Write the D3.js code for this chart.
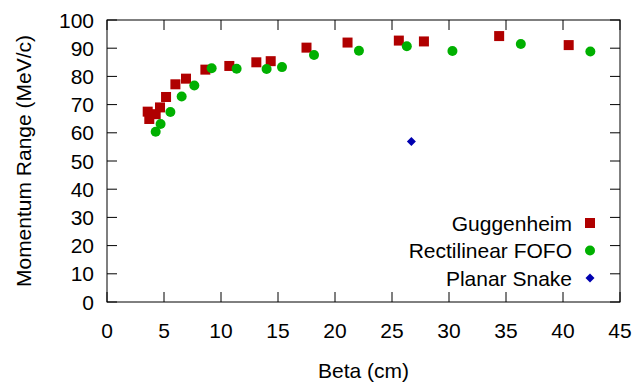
<!DOCTYPE html>
<html>
<head>
<meta charset="utf-8">
<script src="https://cdn.jsdelivr.net/npm/d3@7"></script>
<style>
  body { margin: 0; background: #fff; }
  svg text { font-family: 'Liberation Sans', Arial, sans-serif; fill: #000; }
</style>
</head>
<body>
<div id="chart"></div>
<script>
// Data
const gugBeta = [3.57, 3.71, 4.27, 4.65, 5.18, 6.0, 6.93, 8.63, 10.73, 13.1, 14.36, 17.5, 21.1, 25.6, 27.8, 34.4, 40.5];
const gugRange = [67.5, 64.9, 66.6, 69.0, 72.7, 77.2, 79.2, 82.4, 83.7, 85.0, 85.4, 90.2, 92.0, 92.7, 92.4, 94.3, 91.1];
const fofoBeta = [4.27, 4.7, 5.56, 6.55, 7.66, 9.18, 11.37, 14.0, 15.35, 18.16, 22.1, 26.3, 30.3, 36.3, 42.4];
const fofoRange = [60.4, 63.1, 67.4, 72.9, 76.8, 82.9, 82.7, 82.6, 83.3, 87.6, 89.1, 90.7, 89.0, 91.5, 88.8];
const snakeBeta = [26.7];
const snakeRange = [56.9];
const xTicks = [0, 5, 10, 15, 20, 25, 30, 35, 40, 45];
const yTicks = [0, 10, 20, 30, 40, 50, 60, 70, 80, 90, 100];
const seriesNames = ['Guggenheim', 'Rectilinear FOFO', 'Planar Snake'];

const width = 637;
const height = 382;
const marginLeft = 107;
const marginRight = 17;
const marginTop = 20;
const marginBottom = 80;
const tickLen = 10;
const fontSize = 21;

const svg = d3.select('#chart')
  .append('svg')
  .attr('width', width)
  .attr('height', height)
  .attr('viewBox', [0, 0, width, height]);

const x = d3.scaleLinear().domain([0, 45]).range([marginLeft, width - marginRight]);
const y = d3.scaleLinear().domain([0, 100]).range([height - marginBottom, marginTop]);

// mirrored inward ticks, gnuplot style
const axes = svg.append('g').attr('stroke', '#000').attr('stroke-width', 1);
xTicks.forEach(t => {
  axes.append('line').attr('x1', x(t)).attr('x2', x(t)).attr('y1', y(0)).attr('y2', y(0) - tickLen);
  axes.append('line').attr('x1', x(t)).attr('x2', x(t)).attr('y1', y(100)).attr('y2', y(100) + tickLen);
});
yTicks.forEach(t => {
  axes.append('line').attr('x1', x(0)).attr('x2', x(0) + tickLen).attr('y1', y(t)).attr('y2', y(t));
  axes.append('line').attr('x1', x(45)).attr('x2', x(45) - tickLen).attr('y1', y(t)).attr('y2', y(t));
});
axes.append('rect')
  .attr('x', x(0)).attr('y', y(100))
  .attr('width', x(45) - x(0)).attr('height', y(0) - y(100))
  .attr('fill', 'none');

svg.append('g').selectAll('text').data(xTicks).join('text')
  .attr('x', d => x(d)).attr('y', y(0) + 36)
  .attr('text-anchor', 'middle')
  .style('font-size', fontSize + 'px')
  .text(d => d);

svg.append('g').selectAll('text').data(yTicks).join('text')
  .attr('x', x(0) - 13).attr('y', d => y(d))
  .attr('text-anchor', 'end')
  .attr('dominant-baseline', 'central')
  .style('font-size', fontSize + 'px')
  .text(d => d);

svg.append('text')
  .attr('x', (x(0) + x(45)) / 2).attr('y', 378)
  .attr('text-anchor', 'middle')
  .style('font-size', fontSize + 'px')
  .text('Beta (cm)');

svg.append('text')
  .attr('transform', 'translate(31,' + (y(0) + y(100)) / 2 + ') rotate(-90)')
  .attr('text-anchor', 'middle')
  .style('font-size', fontSize + 'px')
  .text('Momentum Range (MeV/c)');

// markers
const red = '#b00000', green = '#00b000', blue = '#0000b0';
const drawSquare = (g, cx, cy) => g.append('rect').attr('x', cx - 5).attr('y', cy - 5).attr('width', 10).attr('height', 10).attr('fill', red);
const drawCircle = (g, cx, cy) => g.append('circle').attr('cx', cx).attr('cy', cy).attr('r', 5).attr('fill', green);
const drawDiamond = (g, cx, cy) => g.append('path').attr('d', `M${cx},${cy - 4.5}L${cx + 4.5},${cy}L${cx},${cy + 4.5}L${cx - 4.5},${cy}Z`).attr('fill', blue);

const pts = svg.append('g');
gugBeta.forEach((b, i) => drawSquare(pts, x(b), y(gugRange[i])));
fofoBeta.forEach((b, i) => drawCircle(pts, x(b), y(fofoRange[i])));
snakeBeta.forEach((b, i) => drawDiamond(pts, x(b), y(snakeRange[i])));

// legend
const legend = svg.append('g');
const drawers = [drawSquare, drawCircle, drawDiamond];
seriesNames.forEach((name, i) => {
  const ly = 223 + i * 27.5;
  legend.append('text')
    .attr('x', 572).attr('y', ly)
    .attr('text-anchor', 'end')
    .attr('dominant-baseline', 'central')
    .style('font-size', fontSize + 'px')
    .text(name);
  drawers[i](legend, 590, ly);
});
</script>
</body>
</html>
